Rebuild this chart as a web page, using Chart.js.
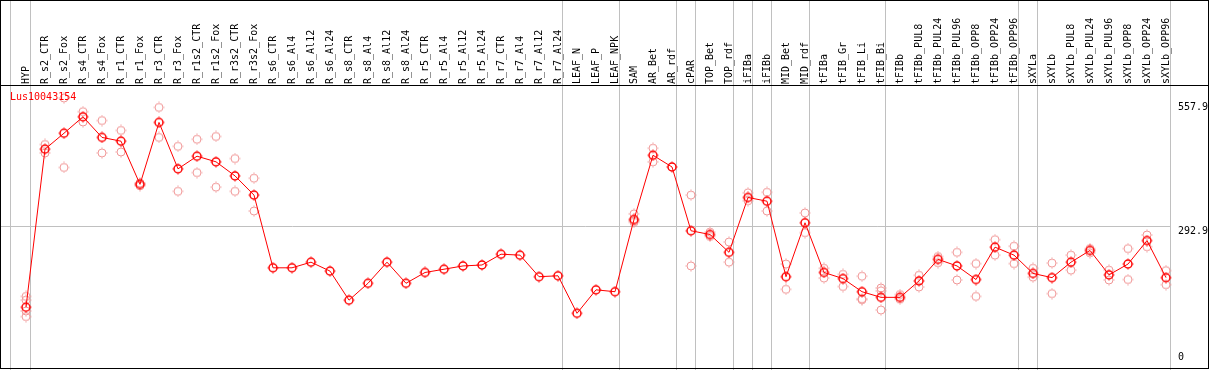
<!DOCTYPE html>
<html>
<head>
<meta charset="utf-8">
<script src="https://cdn.jsdelivr.net/npm/chart.js@4/dist/chart.umd.min.js"></script>
<style>body{margin:0;background:#fff}canvas{display:block}</style>
</head>
<body>
<canvas id="c" width="1209" height="370"></canvas>
<script>
var categories = ["HYP", "R_s2_CTR", "R_s2_Fox", "R_s4_CTR", "R_s4_Fox", "R_r1_CTR", "R_r1_Fox", "R_r3_CTR", "R_r3_Fox",
    "R_r1s2_CTR", "R_r1s2_Fox", "R_r3s2_CTR", "R_r3s2_Fox", "R_s6_CTR", "R_s6_Al4", "R_s6_Al12", "R_s6_Al24",
    "R_s8_CTR", "R_s8_Al4", "R_s8_Al12", "R_s8_Al24", "R_r5_CTR", "R_r5_Al4", "R_r5_Al12", "R_r5_Al24",
    "R_r7_CTR", "R_r7_Al4", "R_r7_Al12", "R_r7_Al24", "LEAF_N", "LEAF_P", "LEAF_NPK", "SAM", "AR_Bet", "AR_rdf",
    "cPAR", "TOP_Bet", "TOP_rdf", "iFIBa", "iFIBb", "MID_Bet", "MID_rdf", "tFIBa", "tFIB_Gr", "tFIB_Li", "tFIB_Bi",
    "tFIBb", "tFIBb_PUL8", "tFIBb_PUL24", "tFIBb_PUL96", "tFIBb_OPP8", "tFIBb_OPP24", "tFIBb_OPP96",
    "sXYLa", "sXYLb", "sXYLb_PUL8", "sXYLb_PUL24", "sXYLb_PUL96", "sXYLb_OPP8", "sXYLb_OPP24", "sXYLb_OPP96"];

// mean expression (red line)
var expression = [119, 456, 490, 525, 481, 473, 381, 513, 414, 441, 429, 399, 358, 203, 203, 215, 196,
    134, 170, 215, 170, 193, 200, 207, 209, 232, 230, 184, 186, 106, 156, 152, 306, 443, 418,
    282, 274, 236, 353, 345, 184, 299, 193, 180, 152, 140, 140, 175, 221, 207, 178, 247, 230,
    191, 182, 215, 240, 188, 211, 261, 182];

// replicates (pink circles)
var rep1 = [142, 466, 565, 536, 517, 496, 384, 545, 462, 477, 483, 436, 394, null, null, null, null,
    null, null, null, null, null, null, null, null, null, null, null, null, null, null, null, 318, 458, null,
    358, 279, 258, 363, 364, 211, 320, 202, 189, 185, 160, 146, 187, 227, 236, 212, 263, 249,
    202, 213, 230, 244, 198, 244, 273, 197];
var rep2 = [99, 448, 417, 514, 448, 450, 378, 481, 366, 406, 375, 366, 324, null, null, null, null,
    null, null, null, null, null, null, null, null, null, null, null, null, null, null, null, 300, 429, null,
    207, 270, 215, 346, 324, 157, 278, 181, 163, 135, 113, 136, 162, 214, 177, 142, 230, 212,
    183, 148, 198, 235, 177, 178, 248, 167];
var rep3 = [134, null, null, null, null, null, null, null, null, null, null, null, null, null, null, null, null,
    null, null, null, null, null, null, null, null, null, null, null, null, null, null, null, 303, null, null,
    null, null, null, null, null, null, null, null, null, 137, 154, null, null, null, null, null, null, null,
    null, null, null, null, null, null, null, null];
var rep4 = [111, null, null, null, null, null, null, null, null, null, null, null, null, null, null, null, null,
    null, null, null, null, null, null, null, null, null, null, null, null, null, null, null, null, null, null,
    null, null, null, null, null, null, null, null, null, null, null, null, null, null, null, null, null, null,
    null, null, null, null, null, null, null, null];

var yTicks = [0, 292.9, 557.9];
var yMax = 592.8;
var geneName = "Lus10043154";
// last category index of each tissue group (gray separators)
var groupEnds = [-1, 0, 28, 31, 34, 35, 37, 38, 39, 41, 45, 52, 53, 60];

Chart.defaults.font.family = "'DejaVu Sans Mono', 'Liberation Mono', monospace";
Chart.defaults.font.size = 10;
Chart.defaults.color = "#000";

// circle with four tiny nubs, like the original plot symbol
function marker(color, w) {
    var c = document.createElement("canvas");
    c.width = 12; c.height = 12;
    var g = c.getContext("2d");
    g.strokeStyle = color;
    g.lineWidth = w;
    g.beginPath();
    g.arc(6, 6, 4, 0, Math.PI * 2);
    g.stroke();
    g.fillStyle = color;
    g.fillRect(5.5, 0.5, 1, 1);
    g.fillRect(5.5, 10.5, 1, 1);
    g.fillRect(0.5, 5.5, 1, 1);
    g.fillRect(10.5, 5.5, 1, 1);
    return c;
}
var mainMarker = marker("#ff0000", 1.5);
var repMarker = marker("rgb(240,150,150)", 1);

function repSet(data) {
    return {
        data: data,
        showLine: false,
        borderColor: "rgba(0,0,0,0)",
        backgroundColor: "rgba(0,0,0,0)",
        pointStyle: repMarker,
        pointRadius: 6,
        pointHoverRadius: 6,
        clip: false,
        order: 1
    };
}

var frame = {
    id: "frame",
    beforeDraw: function (chart) {
        var ctx = chart.ctx, xs = chart.scales.x, ys = chart.scales.y;
        ctx.save();
        ctx.fillStyle = "#fff";
        ctx.fillRect(0, 0, chart.width, chart.height);
        ctx.strokeStyle = "#c0c0c0";
        ctx.lineWidth = 1;
        var lastX = 0;
        groupEnds.forEach(function (i) {
            var px = Math.round(xs.getPixelForValue(i)) + (i < 0 ? 3.5 : 4.5);
            lastX = px;
            ctx.beginPath();
            ctx.moveTo(px, 0);
            ctx.lineTo(px, chart.height);
            ctx.stroke();
        });
        var py = Math.round(ys.getPixelForValue(yTicks[1])) + 0.5;
        ctx.beginPath();
        ctx.moveTo(0, py);
        ctx.lineTo(lastX, py);
        ctx.stroke();
        ctx.restore();
    },
    afterDraw: function (chart) {
        var ctx = chart.ctx, ys = chart.scales.y, area = chart.chartArea;
        ctx.save();
        ctx.fillStyle = "#000";
        ctx.fillRect(0, area.top, chart.width, 1);
        ctx.strokeStyle = "#000";
        ctx.lineWidth = 1;
        ctx.strokeRect(0.5, 0.5, chart.width - 1, 368);
        ctx.font = "10px 'DejaVu Sans Mono', 'Liberation Mono', monospace";
        ctx.textAlign = "left";
        ctx.textBaseline = "middle";
        yTicks.forEach(function (v, k) {
            var p = ys.getPixelForValue(v);
            ctx.fillText(String(v), 1178, k === 0 ? p - 6 : p + 6);
        });
        ctx.fillStyle = "#ff0000";
        ctx.fillText(geneName, 10, 97.5);
        ctx.restore();
    }
};

new Chart(document.getElementById("c"), {
    type: "line",
    data: {
        labels: categories,
        datasets: [
            {
                data: expression,
                borderColor: "#ff0000",
                backgroundColor: "#ff0000",
                borderWidth: 1,
                tension: 0,
                segment: { borderColor: "#ff0000" },
                pointStyle: mainMarker,
                pointRadius: 6,
                pointHoverRadius: 6,
                clip: false,
                order: 0
            },
            repSet(rep1), repSet(rep2), repSet(rep3), repSet(rep4)
        ]
    },
    options: {
        responsive: false,
        animation: false,
        events: [],
        layout: { padding: { left: 26, right: 43, top: 0, bottom: 2 } },
        plugins: { legend: { display: false }, tooltip: { enabled: false }, colors: { enabled: false } },
        scales: {
            x: {
                type: "category",
                position: "top",
                offset: false,
                grid: { display: false },
                border: { display: false },
                ticks: { autoSkip: false, minRotation: 90, maxRotation: 90, padding: -7, labelOffset: 12 },
                afterFit: function (s) { s.height = 85; }
            },
            y: {
                display: false,
                min: 0,
                max: yMax
            }
        }
    },
    plugins: [frame]
});
</script>
</body>
</html>
